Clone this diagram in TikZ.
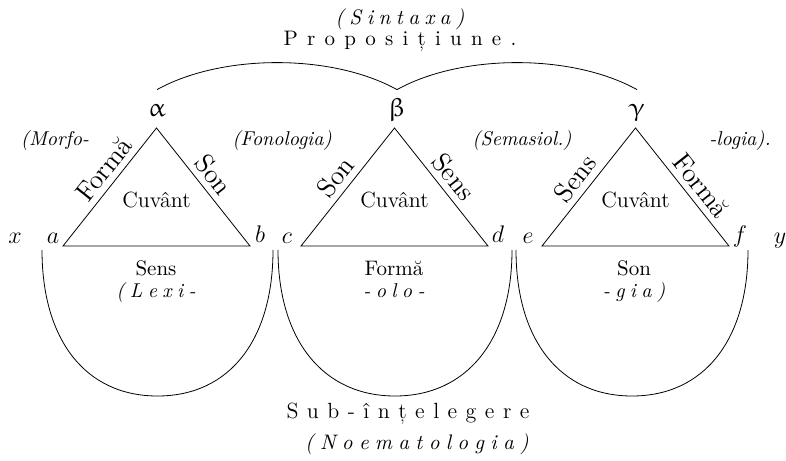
\documentclass[tikz,border=0pt]{standalone}
\usepackage{fontspec}
\usepackage{upgreek}
\ExplSyntaxOn
\NewDocumentCommand{\spaced}{mm}
  { \exp_args:No \tl_map_inline:nn {#2} { ##1 \hspace{#1} } \unskip }
\ExplSyntaxOff
\newcommand{\forma}{Form^^^^0103}
\tikzset{
  txt/.style={anchor=base, inner sep=0pt},
  word/.style={txt, font=\fontsize{11}{13}\selectfont},
  low/.style={txt, font=\fontsize{10.5}{12}\selectfont},
  note/.style={txt, font=\fontsize{10}{12}\selectfont\itshape},
  side/.style={sloped, above, inner sep=3pt, font=\fontsize{13.5}{15}\selectfont},
  vertex/.style={txt, font=\fontsize{12.5}{15}\selectfont},
  greek/.style={anchor=base, inner sep=3pt, text height=7pt, text depth=2pt, font=\fontsize{13}{15}\selectfont},
}
\begin{document}
\begin{tikzpicture}[x=0.5pt,y=-0.5pt]
  \useasboundingbox (0,0) rectangle (786,460);
  % Title
  \node[txt, font=\fontsize{10.5}{12}\selectfont\itshape] (sintaxa) at (400,25) {\spaced{0.26em}{(Sintaxa)}};
  \node[txt, font=\fontsize{10.5}{12}\selectfont] (propozitie) at (400,46) {\spaced{0.44em}{Proposițiune.}};
  % Greek letters and arcs
  \node[greek] (al) at (157,117) {$\upalpha$};
  \node[greek] (be) at (397,117) {$\upbeta$};
  \node[greek] (ga) at (637,117) {$\upgamma$};
  \draw ([yshift=3.5pt]al.north) .. controls +(65,-36) and +(-65,-36) .. ([yshift=3.5pt]be.north);
  \draw ([yshift=3.5pt]be.north) .. controls +(65,-36) and +(-65,-36) .. ([yshift=3.5pt]ga.north);
  % Notes between the triangles
  \node[note] at (55,145) {(Morfo-};
  \node[note] at (282,145) {(Fonologia)};
  \node[note] at (522,145) {(Semasiol.)};
  \node[note] at (740,145) {-logia).};
  % Triangles
  \foreach \n/\cx/\sl/\pl/\sr/\pr in {1/156.5/\forma/0.57/Son/0.48, 2/394.5/Son/0.5/Sens/0.5, 3/635.5/Sens/0.49/\forma/0.57} {
    \coordinate (top\n) at (\cx,128);
    \coordinate (lft\n) at (\cx-93.5,246);
    \coordinate (rgt\n) at (\cx+93.5,246);
    \draw (lft\n) -- node[side, pos=\pl] {\sl} (top\n) -- node[side, pos=\pr] {\sr} (rgt\n) -- cycle;
    \node[word] (cuv\n) at (\cx,207) {Cuvânt};
  }
  % Letters on the base line
  \foreach \v/\x/\y in {x/15/243, a/53/243, b/260/242, c/287/243, d/498/242, e/528/243, f/740/242, y/780/243} {
    \node[vertex] (\v) at (\x,\y) {$\v$};
  }
  % Bowls under the triangles
  \foreach \l/\r in {42/273, 278/512, 516/748} {
    \draw (\l,250) .. controls +(0,90) and +(-72,0) .. ({(\l+\r)/2},396)
      .. controls +(72,0) and +(0,90) .. (\r,250);
  }
  \foreach \cx/\w/\part in {156/Sens/(Lexi-, 394/\forma/-olo-, 634/Son/-gia)} {
    \node[low] at (\cx,275) {\w};
    \node[note] at (\cx,297) {\spaced{0.27em}{\part}};
  }
  % Bottom
  \node[txt, font=\fontsize{11}{13}\selectfont] (subint) at (408,418) {\spaced{0.385em}{Sub-înțelegere}};
  \node[txt, font=\fontsize{10.5}{12}\selectfont\itshape] (noema) at (417,449) {\spaced{0.3em}{(Noematologia)}};
\end{tikzpicture}
\end{document}
